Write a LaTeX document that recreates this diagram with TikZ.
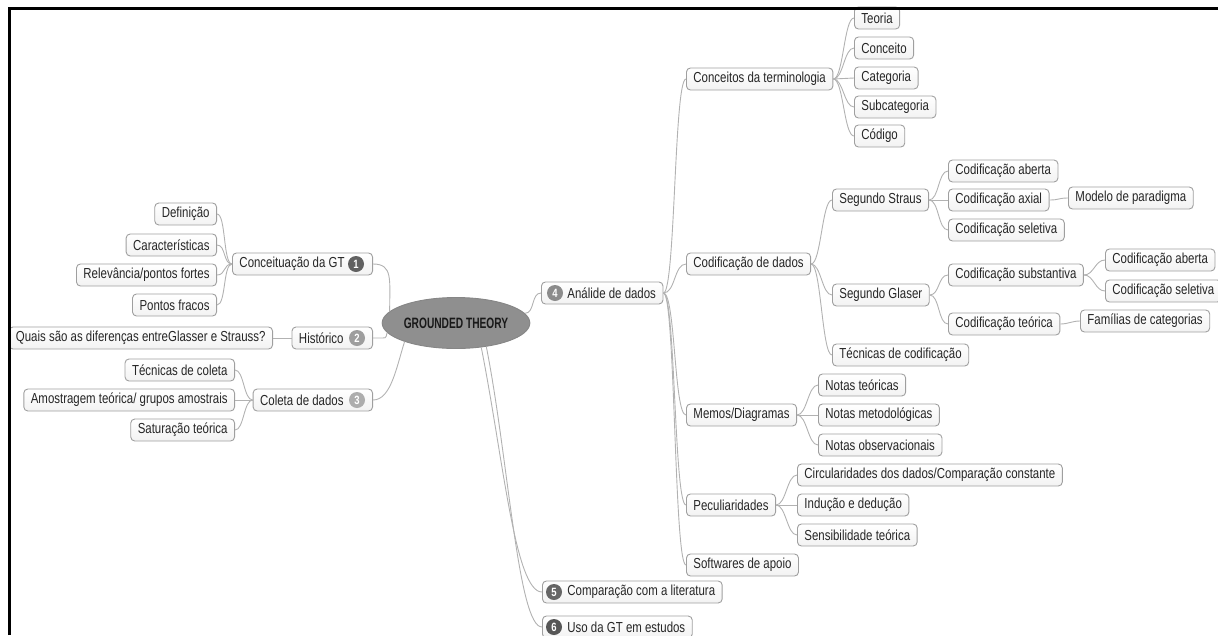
\documentclass[tikz,border=0pt]{standalone}
\usepackage{fontspec}
\setmainfont{Liberation Sans}[FakeStretch=0.79]
\newfontfamily\rootfont{Liberation Sans}[FakeStretch=0.68]
\usetikzlibrary{shapes.geometric}
\tikzset{
  topic/.style={draw=gray!75, line width=0.9pt, rounded corners=4pt,
    top color=white, bottom color=gray!10, inner xsep=7pt, inner ysep=0pt,
    minimum height=22pt, text=black!85, font=\fontsize{14.5}{16}\selectfont},
  root/.style={ellipse, draw=gray!95, line width=0.9pt, fill=gray!88,
    minimum width=128pt, minimum height=51pt, inner sep=0pt, text=black!90,
    font=\rootfont\bfseries\fontsize{15}{17}\selectfont},
  num/.style={circle, inner sep=0pt, minimum size=16pt, fill=#1,
    text=white, font=\bfseries\fontsize{12}{12}\selectfont},
  link/.style={draw=gray!60, line width=0.9pt},
  frame/.style={line width=3pt, black}
}
\begin{document}
\begin{tikzpicture}[x=1pt,y=-1pt]
\useasboundingbox (0,0) rectangle (1218,635);
\node[root] (gt) at (456,323) {GROUNDED THEORY};
\node[topic, anchor=east] (conc) at (373,264) {Conceituação da GT\kern21pt};
\node[topic, anchor=east] (hist) at (373,338) {Histórico\kern22pt};
\node[topic, anchor=east] (coleta) at (373,400) {Coleta de dados\kern22pt};
\node[num=black!62] (n1) at ([xshift=-17pt]conc.east) {1};
\node[num=black!38] (n2) at ([xshift=-16pt]hist.east) {2};
\node[num=black!32] (n3) at ([xshift=-16pt]coleta.east) {3};
\node[topic, anchor=east] (defin) at (217,214) {Definição};
\node[topic, anchor=east] (caract) at (217,245) {Características};
\node[topic, anchor=east] (relev) at (217,275) {Relevância/pontos fortes};
\node[topic, anchor=east] (fracos) at (217,305) {Pontos fracos};
\node[topic, anchor=east] (quais) at (273,338) {Quais são as diferenças entreGlasser e Strauss?};
\node[topic, anchor=east] (tcoleta) at (235,370) {Técnicas de coleta};
\node[topic, anchor=east] (amostr) at (235,400) {Amostragem teórica/ grupos amostrais};
\node[topic, anchor=east] (satur) at (235,430) {Saturação teórica};
\node[topic, anchor=west] (analise) at (541,293) {\kern19pt Análide de dados};
\node[topic, anchor=west] (compar) at (542,592) {\kern18pt Comparação com a literatura};
\node[topic, anchor=west] (usogt) at (542,627) {\kern18pt Uso da GT em estudos};
\node[num=black!45] (n4) at ([xshift=14pt]analise.west) {4};
\node[num=black!60] (n5) at ([xshift=12pt]compar.west) {5};
\node[num=black!66] (n6) at ([xshift=12pt]usogt.west) {6};
\node[topic, anchor=west] (termos) at (686,79) {Conceitos da terminologia};
\node[topic, anchor=west] (teoria) at (854,18) {Teoria};
\node[topic, anchor=west] (conceito) at (854,48) {Conceito};
\node[topic, anchor=west] (categ) at (854,78) {Categoria};
\node[topic, anchor=west] (subcat) at (854,107) {Subcategoria};
\node[topic, anchor=west] (codigo) at (854,136) {Código};
\node[topic, anchor=west] (codif) at (686,264) {Codificação de dados};
\node[topic, anchor=west] (strauss) at (832,200) {Segundo Straus};
\node[topic, anchor=west] (sabert) at (948,171) {Codificação aberta};
\node[topic, anchor=west] (saxial) at (948,200) {Codificação axial};
\node[topic, anchor=west] (paradig) at (1068,198) {Modelo de paradigma};
\node[topic, anchor=west] (sselet) at (948,230) {Codificação seletiva};
\node[topic, anchor=west] (glaser) at (832,295) {Segundo Glaser};
\node[topic, anchor=west] (gsubst) at (948,275) {Codificação substantiva};
\node[topic, anchor=west] (gabert) at (1105,260) {Codificação aberta};
\node[topic, anchor=west] (gselet) at (1105,291) {Codificação seletiva};
\node[topic, anchor=west] (gteor) at (948,324) {Codificação teórica};
\node[topic, anchor=west] (famil) at (1080,321) {Famílias de categorias};
\node[topic, anchor=west] (tecnicas) at (832,355) {Técnicas de codificação};
\node[topic, anchor=west] (memos) at (686,415) {Memos/Diagramas};
\node[topic, anchor=west] (nteor) at (818,385) {Notas teóricas};
\node[topic, anchor=west] (nmetod) at (818,415) {Notas metodológicas};
\node[topic, anchor=west] (nobserv) at (818,445) {Notas observacionais};
\node[topic, anchor=west] (peculiar) at (686,505) {Peculiaridades};
\node[topic, anchor=west] (circul) at (797,475) {Circularidades dos dados/Comparação constante};
\node[topic, anchor=west] (inducao) at (797,505) {Indução e dedução};
\node[topic, anchor=west] (sensib) at (797,535) {Sensibilidade teórica};
\node[topic, anchor=west] (softw) at (686,565) {Softwares de apoio};
\draw[link] (gt.170) .. controls +(0,-32) and +(20,0) .. (conc.east);
\draw[link] (gt.188) .. controls +(-2,6) and +(16,0) .. (hist.east);
\draw[link] (gt.200) .. controls +(-8,25) and +(18,0) .. (coleta.east);
\draw[link] (gt.8) .. controls +(10,0) and +(-10,0) .. (analise.west);
\draw[link] (gt.-44) .. controls +(22,111) and +(-27,0) .. (compar.west);
\draw[link] (gt.-38) .. controls +(22,111) and +(-24,0) .. (usogt.west);
\draw[link] (conc.west) .. controls +(-9,0) and +(9,0) .. (defin.east);
\draw[link] (conc.west) .. controls +(-9,0) and +(9,0) .. (caract.east);
\draw[link] (conc.west) .. controls +(-9,0) and +(9,0) .. (relev.east);
\draw[link] (conc.west) .. controls +(-9,0) and +(9,0) .. (fracos.east);
\draw[link] (hist.west) -- (quais.east);
\draw[link] (coleta.west) .. controls +(-9,0) and +(9,0) .. (tcoleta.east);
\draw[link] (coleta.west) -- (amostr.east);
\draw[link] (coleta.west) .. controls +(-9,0) and +(9,0) .. (satur.east);
\draw[link] (analise.east) .. controls +(12,0) and +(-12,0) .. (termos.west);
\draw[link] (analise.east) .. controls +(12,0) and +(-12,0) .. (codif.west);
\draw[link] (analise.east) .. controls +(12,0) and +(-12,0) .. (memos.west);
\draw[link] (analise.east) .. controls +(12,0) and +(-12,0) .. (peculiar.west);
\draw[link] (analise.east) .. controls +(12,0) and +(-12,0) .. (softw.west);
\draw[link] (termos.east) .. controls +(10,0) and +(-10,0) .. (teoria.west);
\draw[link] (termos.east) .. controls +(10,0) and +(-10,0) .. (conceito.west);
\draw[link] (termos.east) .. controls +(10,0) and +(-10,0) .. (categ.west);
\draw[link] (termos.east) .. controls +(10,0) and +(-10,0) .. (subcat.west);
\draw[link] (termos.east) .. controls +(10,0) and +(-10,0) .. (codigo.west);
\draw[link] (codif.east) .. controls +(10,0) and +(-10,0) .. (strauss.west);
\draw[link] (codif.east) .. controls +(10,0) and +(-10,0) .. (glaser.west);
\draw[link] (codif.east) .. controls +(10,0) and +(-10,0) .. (tecnicas.west);
\draw[link] (strauss.east) .. controls +(10,0) and +(-10,0) .. (sabert.west);
\draw[link] (strauss.east) -- (saxial.west);
\draw[link] (strauss.east) .. controls +(10,0) and +(-10,0) .. (sselet.west);
\draw[link] (saxial.east) .. controls +(10,0) and +(-10,0) .. (paradig.west);
\draw[link] (glaser.east) .. controls +(10,0) and +(-10,0) .. (gsubst.west);
\draw[link] (glaser.east) .. controls +(10,0) and +(-10,0) .. (gteor.west);
\draw[link] (gsubst.east) .. controls +(10,0) and +(-10,0) .. (gabert.west);
\draw[link] (gsubst.east) .. controls +(10,0) and +(-10,0) .. (gselet.west);
\draw[link] (gteor.east) .. controls +(8,0) and +(-8,0) .. (famil.west);
\draw[link] (memos.east) .. controls +(10,0) and +(-10,0) .. (nteor.west);
\draw[link] (memos.east) -- (nmetod.west);
\draw[link] (memos.east) .. controls +(10,0) and +(-10,0) .. (nobserv.west);
\draw[link] (peculiar.east) .. controls +(10,0) and +(-10,0) .. (circul.west);
\draw[link] (peculiar.east) -- (inducao.west);
\draw[link] (peculiar.east) .. controls +(10,0) and +(-10,0) .. (sensib.west);
\draw[frame] (9.5,635) -- (9.5,8.5) -- (1218,8.5);
\end{tikzpicture}
\end{document}
